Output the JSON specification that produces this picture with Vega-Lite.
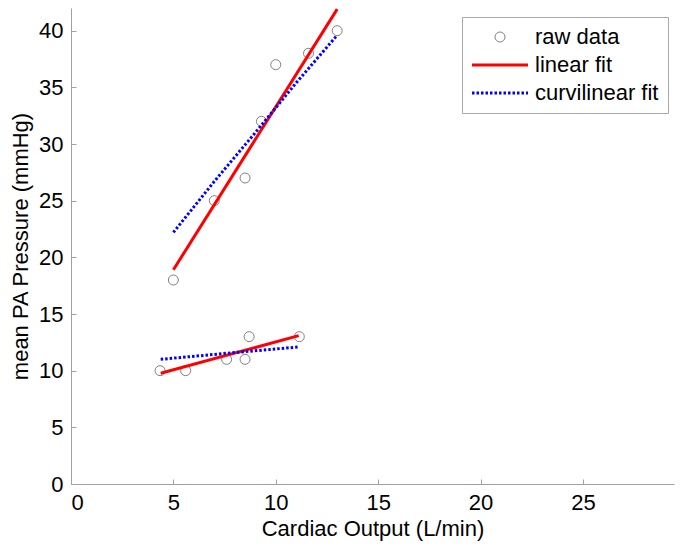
{
  "$schema": "https://vega.github.io/schema/vega-lite/v6.json",
  "width": 603,
  "height": 476,
  "autosize": "none",
  "padding": {"left": 71, "top": 8, "right": 9, "bottom": 67},
  "background": "white",
  "config": {
    "view": {"stroke": null},
    "font": "Liberation Sans",
    "axis": {
      "grid": false,
      "domainColor": "#a0a0a0",
      "tickColor": "#a0a0a0",
      "tickSize": -5,
      "labelFont": "Liberation Sans",
      "labelFontSize": 22,
      "labelColor": "#000000",
      "titleFont": "Liberation Sans",
      "titleFontSize": 22,
      "titleFontWeight": "normal",
      "titleColor": "#000000"
    }
  },
  "data": {
    "values": [
      {"series": "raw data", "group": "upper", "x": 5.0, "y": 18},
      {"series": "raw data", "group": "upper", "x": 7.0, "y": 25},
      {"series": "raw data", "group": "upper", "x": 8.5, "y": 27},
      {"series": "raw data", "group": "upper", "x": 9.3, "y": 32},
      {"series": "raw data", "group": "upper", "x": 10.0, "y": 37},
      {"series": "raw data", "group": "upper", "x": 11.6, "y": 38},
      {"series": "raw data", "group": "upper", "x": 13.0, "y": 40},
      {"series": "raw data", "group": "lower", "x": 4.35, "y": 10},
      {"series": "raw data", "group": "lower", "x": 5.6, "y": 10},
      {"series": "raw data", "group": "lower", "x": 7.6, "y": 11},
      {"series": "raw data", "group": "lower", "x": 8.5, "y": 11},
      {"series": "raw data", "group": "lower", "x": 8.7, "y": 13},
      {"series": "raw data", "group": "lower", "x": 11.15, "y": 13},
      {"series": "linear fit", "group": "upper", "x": 5.0, "y": 18.9},
      {"series": "linear fit", "group": "upper", "x": 13.0, "y": 41.9},
      {"series": "linear fit", "group": "lower", "x": 4.38, "y": 9.77},
      {"series": "linear fit", "group": "lower", "x": 11.12, "y": 13.09},
      {"series": "curvilinear fit", "group": "upper", "x": 5.0, "y": 22.2},
      {"series": "curvilinear fit", "group": "upper", "x": 7.0, "y": 26.7},
      {"series": "curvilinear fit", "group": "upper", "x": 9.0, "y": 31.0},
      {"series": "curvilinear fit", "group": "upper", "x": 11.0, "y": 35.4},
      {"series": "curvilinear fit", "group": "upper", "x": 13.0, "y": 39.6},
      {"series": "curvilinear fit", "group": "lower", "x": 4.38, "y": 11.0},
      {"series": "curvilinear fit", "group": "lower", "x": 8.0, "y": 11.6},
      {"series": "curvilinear fit", "group": "lower", "x": 11.12, "y": 12.09}
    ]
  },
  "encoding": {
    "x": {
      "field": "x",
      "type": "quantitative",
      "scale": {"domain": [0, 29.45], "nice": false, "zero": false},
      "axis": {"values": [0, 5, 10, 15, 20, 25], "title": "Cardiac Output (L/min)", "labelPadding": 13, "titlePadding": 5}
    },
    "y": {
      "field": "y",
      "type": "quantitative",
      "scale": {"domain": [0, 42], "nice": false, "zero": false},
      "axis": {"values": [0, 5, 10, 15, 20, 25, 30, 35, 40], "title": "mean PA Pressure (mmHg)", "labelPadding": 13, "titlePadding": 6}
    },
    "color": {
      "field": "series",
      "type": "nominal",
      "scale": {"domain": ["raw data", "linear fit", "curvilinear fit"], "range": ["#808080", "#ff0000", "#0000ff"]},
      "legend": {
        "title": null,
        "orient": "none",
        "legendX": 391,
        "legendY": 9,
        "padding": 9,
        "fillColor": "#ffffff",
        "strokeColor": "#a8a8a8",
        "labelFont": "Liberation Sans",
        "labelFontSize": 22,
        "labelColor": "#000000",
        "labelOffset": 7,
        "rowPadding": 6,
        "symbolSize": 3136,
        "symbolType": "stroke",
        "symbolStrokeWidth": 3,
        "encode": {
          "symbols": {
            "update": {
              "x": {"value": 29},
              "shape": {"signal": "datum.value === 'raw data' ? 'circle' : 'stroke'"},
              "size": {"signal": "datum.value === 'raw data' ? 100 : 3136"},
              "strokeWidth": {"signal": "datum.value === 'raw data' ? 1 : 3"},
              "strokeDash": {"signal": "datum.value === 'curvilinear fit' ? [2.5, 2] : []"},
              "fill": {"value": "transparent"},
              "stroke": {"signal": "datum.value === 'raw data' ? '#808080' : (datum.value === 'linear fit' ? '#ff0000' : '#0000ff')"},
              "opacity": {"value": 1}
            }
          },
          "labels": {
            "update": {
              "x": {"value": 64}
            }
          }
        }
      }
    }
  },
  "layer": [
    {
      "transform": [{"filter": "datum.series === 'raw data'"}],
      "mark": {"type": "point", "shape": "circle", "filled": false, "size": 100, "strokeWidth": 1, "opacity": 1}
    },
    {
      "transform": [{"filter": "datum.series === 'linear fit'"}],
      "mark": {"type": "line", "strokeWidth": 3, "clip": true},
      "encoding": {"detail": {"field": "group", "type": "nominal"}}
    },
    {
      "transform": [{"filter": "datum.series === 'curvilinear fit'"}],
      "mark": {"type": "line", "strokeWidth": 3, "strokeDash": [2.5, 2], "clip": true},
      "encoding": {"detail": {"field": "group", "type": "nominal"}}
    }
  ]
}
